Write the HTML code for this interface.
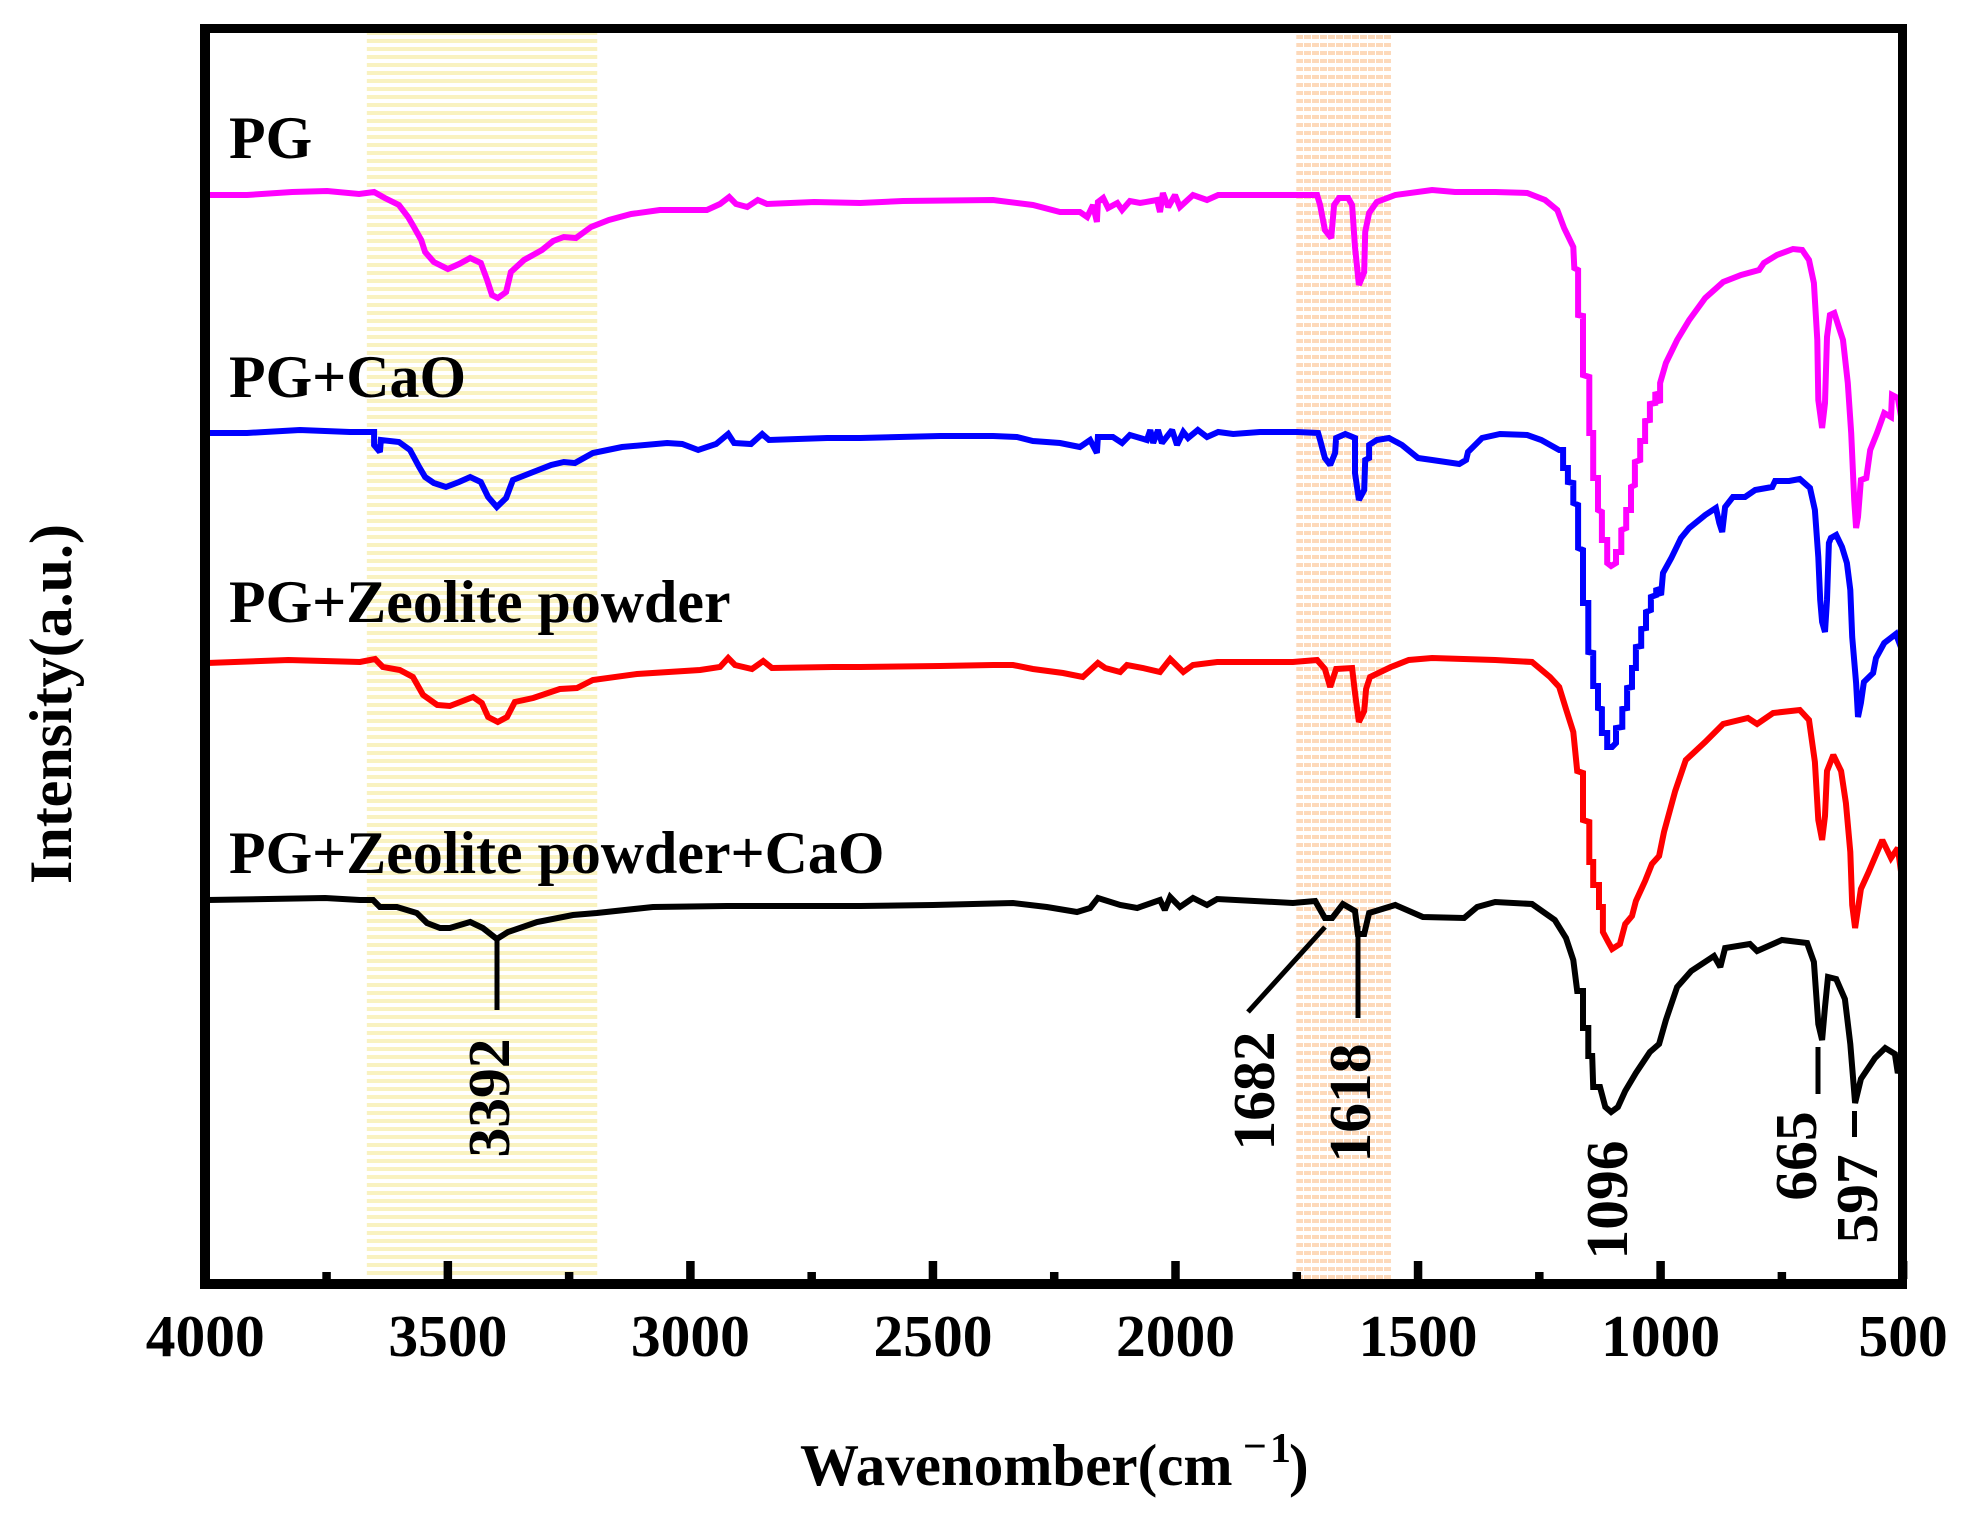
<!DOCTYPE html>
<html lang="en">
<head>
<meta charset="utf-8">
<title>FTIR spectra</title>
<style>
html,body{margin:0;padding:0;background:#fff;}
svg{display:block;}
text{font-family:"Liberation Serif",serif;font-weight:bold;fill:#000;}
</style>
</head>
<body>
<svg id="chart" xmlns="http://www.w3.org/2000/svg" width="1963" height="1519" viewBox="0 0 1963 1519">
  <defs>
    <pattern id="yellow-stripes" patternUnits="userSpaceOnUse" x="0" y="39" width="8" height="8">
      <rect x="0" y="0" width="8" height="4" fill="#F9F2C0" shape-rendering="crispEdges"/>
    </pattern>
    <pattern id="orange-stripes" patternUnits="userSpaceOnUse" x="1296" y="35" width="8" height="8">
      <rect x="0" y="0" width="7" height="4" fill="#FDD9BA" shape-rendering="crispEdges"/>
    </pattern>
  </defs>
  <g id="bands"></g>
  <g id="series"></g>
  <g stroke="#000" stroke-width="5" fill="none">
    <line x1="497" y1="940" x2="497" y2="1010"/>
    <line x1="1325" y1="927" x2="1248" y2="1012"/>
    <line x1="1358" y1="926" x2="1358" y2="1018"/>
    <line x1="1818" y1="1047" x2="1818" y2="1094"/>
    <line x1="1854.5" y1="1111" x2="1854.5" y2="1137"/>
  </g>
  <g font-size="59.9">
    <text x="229" y="158">PG</text>
    <text x="229" y="397">PG+CaO</text>
    <text x="229" y="622">PG+Zeolite powder</text>
    <text x="229" y="873">PG+Zeolite powder+CaO</text>
  </g>
  <g font-size="59.5" text-anchor="middle">
    <text transform="translate(509 1098) rotate(-90)">3392</text>
    <text transform="translate(1274 1091) rotate(-90)">1682</text>
    <text transform="translate(1370 1103) rotate(-90)">1618</text>
    <text transform="translate(1627 1200) rotate(-90)">1096</text>
    <text transform="translate(1816 1156) rotate(-90)">665</text>
    <text transform="translate(1877 1199) rotate(-90)">597</text>
  </g>
  <g id="frame" fill="#000" shape-rendering="crispEdges">
    <rect x="200" y="24" width="1707" height="9"/>
    <rect x="200" y="1279" width="1707" height="10"/>
    <rect x="200" y="24" width="10" height="1265"/>
    <rect x="1898" y="24" width="9" height="1265"/>
  </g>
  <g id="x-axis"></g>
  <text x="800" y="1485" font-size="59">Wavenomber(cm<tspan x="1243" y="1460" font-size="42">−</tspan><tspan x="1270" y="1462" font-size="42">1</tspan><tspan x="1289" y="1485" font-size="59">)</tspan></text>
  <text transform="translate(71 704) rotate(-90)" font-size="60" text-anchor="middle">Intensity(a.u.)</text>
</svg>
<script>
const majorTicks = [4000, 3500, 3000, 2500, 2000, 1500, 1000, 500];
const minorTicks = [3750, 3250, 2750, 2250, 1750, 1250, 750];
const yellowBand = [3667, 3192];
const orangeBand = [1751, 1555];

const pgWavenumber = [3996,3914,3821,3749,3683,3652,3630,3601,3582,3570,3555,3547,3529,3500,3477,3454,3432,3419,3409,3397,3380,3370,3343,3306,3283,3261,3236,3205,3168,3122,3063,3003,2966,2939,2920,2906,2883,2861,2842,2745,2650,2562,2376,2294,2238,2197,2182,2170,2162,2160,2149,2139,2120,2110,2094,2073,2038,2032,2026,2015,2001,1991,1964,1935,1912,1826,1749,1708,1702,1692,1679,1673,1663,1644,1636,1630,1622,1611,1609,1601,1585,1547,1471,1424,1341,1275,1238,1213,1199,1180,1178,1170,1170,1160,1160,1147,1147,1139,1139,1129,1129,1121,1121,1110,1110,1102,1092,1092,1081,1081,1071,1071,1061,1061,1053,1053,1042,1042,1032,1032,1022,1022,1011,1011,1001,1001,989,966,941,908,871,834,797,787,760,727,708,694,684,677,675,667,661,657,651,642,632,624,614,607,601,597,593,587,576,568,554,539,525,523,511,502];
const pgIntensity = [1105,1105,1108,1109,1106,1108,1102,1095,1083,1073,1060,1048,1038,1031,1036,1042,1037,1020,1005,1002,1008,1028,1040,1050,1059,1063,1062,1073,1080,1086,1090,1090,1090,1096,1103,1096,1093,1100,1096,1098,1097,1099,1100,1095,1088,1088,1083,1095,1078,1098,1102,1092,1097,1090,1099,1097,1100,1088,1107,1093,1105,1093,1105,1100,1105,1105,1105,1105,1095,1070,1062,1095,1102,1102,1095,1053,1015,1028,1068,1087,1098,1105,1110,1108,1108,1107,1100,1090,1072,1053,1032,1030,985,984,925,923,867,867,822,822,790,788,760,760,737,734,737,748,748,770,772,790,790,813,815,838,840,859,859,879,880,896,897,908,897,917,937,960,980,1002,1018,1025,1030,1037,1045,1051,1050,1040,1017,960,900,872,897,963,985,987,972,960,917,867,800,772,783,820,822,850,867,887,883,905,902,877];

const caoWavenumber = [3996,3914,3805,3702,3652,3652,3640,3638,3601,3578,3559,3547,3529,3504,3477,3454,3432,3417,3399,3380,3366,3324,3287,3261,3238,3201,3141,3048,3017,2984,2947,2922,2910,2875,2852,2838,2718,2650,2485,2376,2327,2294,2238,2197,2176,2162,2160,2129,2110,2094,2059,2052,2046,2036,2028,2007,1997,1984,1974,1954,1935,1912,1881,1826,1749,1706,1702,1692,1681,1671,1669,1650,1630,1630,1622,1611,1609,1601,1601,1585,1560,1533,1500,1471,1415,1401,1397,1368,1331,1275,1246,1209,1201,1201,1191,1191,1180,1180,1170,1170,1160,1160,1149,1149,1139,1139,1129,1129,1121,1121,1110,1110,1100,1092,1092,1079,1079,1069,1069,1059,1059,1051,1051,1040,1040,1030,1030,1020,1020,1009,1009,999,995,978,958,941,908,886,879,873,867,851,826,805,770,764,735,713,692,682,675,671,667,661,657,653,649,638,626,616,609,605,597,593,587,581,562,556,539,515,504,500];
const caoIntensity = [867,867,870,868,868,855,848,860,858,850,833,823,817,813,818,823,818,803,793,802,820,828,835,838,837,847,853,857,856,850,856,866,857,856,866,860,862,862,864,864,863,859,857,853,860,847,863,863,857,865,860,870,857,870,857,870,855,868,862,870,863,868,866,868,868,867,860,842,835,847,862,866,862,827,800,810,840,842,855,860,862,855,842,840,836,840,848,862,866,865,860,850,850,832,832,818,817,797,795,752,750,697,697,648,647,614,614,592,591,567,567,553,553,557,572,573,591,592,612,613,632,632,653,654,671,672,688,690,703,705,712,705,727,742,762,772,785,792,777,768,793,803,803,810,813,819,819,821,812,790,743,700,678,668,700,757,762,765,753,737,710,663,617,583,597,618,627,642,657,666,652,642];

const zeoliteWavenumber = [3996,3829,3681,3650,3634,3599,3572,3551,3522,3496,3448,3430,3417,3397,3378,3362,3324,3269,3234,3201,3110,2980,2939,2922,2908,2873,2850,2832,2706,2650,2485,2376,2335,2294,2232,2191,2160,2145,2114,2100,2067,2032,2011,1984,1964,1914,1758,1708,1692,1681,1669,1636,1630,1622,1611,1607,1599,1556,1519,1471,1341,1265,1228,1209,1195,1180,1172,1160,1160,1147,1147,1139,1139,1127,1127,1119,1119,1108,1100,1084,1073,1059,1051,1032,1018,1003,993,970,948,908,871,820,801,768,713,694,682,675,667,661,657,644,628,618,609,605,599,587,572,543,525,511,504];
const zeoliteIntensity = [637,640,638,641,633,630,623,605,595,594,603,597,583,578,583,598,602,611,612,620,626,630,633,642,635,631,639,632,633,633,634,635,635,631,627,623,637,632,628,635,632,628,641,628,635,638,638,640,631,613,631,632,607,578,589,611,623,633,640,642,640,638,623,613,591,568,529,527,480,478,438,438,415,415,393,393,368,358,351,356,376,384,399,419,436,444,468,509,540,558,576,582,576,587,590,580,538,480,460,484,529,545,529,497,448,395,372,411,427,460,442,452,427];

const comboWavenumber = [3996,3753,3681,3654,3640,3605,3564,3543,3516,3496,3454,3428,3399,3376,3316,3242,3193,3077,2925,2650,2500,2335,2265,2203,2176,2160,2114,2079,2032,2022,2011,1991,1964,1935,1914,1758,1712,1692,1677,1655,1630,1624,1611,1601,1547,1490,1405,1378,1341,1265,1218,1195,1180,1172,1160,1160,1149,1149,1141,1139,1125,1114,1102,1088,1073,1051,1022,1003,989,966,937,890,877,867,816,801,750,698,684,675,667,661,655,638,620,609,599,587,558,537,517,511,504];
const comboIntensity = [400,402,400,400,393,393,387,377,372,372,378,372,361,368,378,385,387,393,394,394,395,397,393,388,392,402,395,392,400,390,403,393,402,395,401,397,399,382,382,396,389,366,366,387,395,383,382,393,398,396,380,362,340,309,309,272,272,244,244,213,213,193,188,193,209,227,248,256,280,313,329,344,333,352,356,349,360,357,338,276,260,293,323,321,301,256,197,221,242,252,246,227,235];

const seriesNames = ['pg', 'pg-cao', 'pg-zeolite', 'pg-zeolite-cao'];
const seriesColors = ['#FF00FF', '#0000FF', '#FF0000', '#000000'];
const seriesWavenumbers = [pgWavenumber, caoWavenumber, zeoliteWavenumber, comboWavenumber];
const seriesIntensities = [pgIntensity, caoIntensity, zeoliteIntensity, comboIntensity];

const SVGNS = 'http://www.w3.org/2000/svg';
function xScale(w) { return 205.3 + (4000 - w) * 0.4851; }
function yScale(v) { return 1300 - v; }

function makeBand(range, fill, top, bottom, name) {
  const r = document.createElementNS(SVGNS, 'rect');
  r.setAttribute('x', xScale(range[0]));
  r.setAttribute('y', top);
  r.setAttribute('width', xScale(range[1]) - xScale(range[0]));
  r.setAttribute('height', bottom - top);
  r.setAttribute('fill', fill);
  
  
  document.getElementById('bands').appendChild(r);
}
makeBand(yellowBand, 'url(#yellow-stripes)', 31, 1275, 'yellow-band-3392');
makeBand(orangeBand, 'url(#orange-stripes)', 33, 1279, 'orange-band-1650');

seriesNames.forEach(function (name, i) {
  const ws = seriesWavenumbers[i];
  const vs = seriesIntensities[i];
  let d = '';
  for (let k = 0; k < ws.length; k++) {
    d += (k === 0 ? 'M' : 'L') + xScale(ws[k]).toFixed(1) + ' ' + yScale(vs[k]).toFixed(1);
  }
  const path = document.createElementNS(SVGNS, 'path');
  path.setAttribute('d', d);
  path.setAttribute('fill', 'none');
  path.setAttribute('stroke', seriesColors[i]);
  path.setAttribute('stroke-width', '6');
  path.setAttribute('stroke-linejoin', 'miter');
  path.setAttribute('stroke-miterlimit', '2');
  
  
  document.getElementById('series').appendChild(path);
});

const axisGroup = document.getElementById('x-axis');
function makeTick(w, top) {
  const t = document.createElementNS(SVGNS, 'rect');
  t.setAttribute('x', xScale(w) - 4.25);
  t.setAttribute('y', top);
  t.setAttribute('width', 8.5);
  t.setAttribute('height', 1279 - top);
  t.setAttribute('fill', '#000');
  
  
  axisGroup.appendChild(t);
}
majorTicks.forEach(function (w) {
  makeTick(w, 1261);
  const label = document.createElementNS(SVGNS, 'text');
  label.setAttribute('x', xScale(w));
  label.setAttribute('y', 1356);
  label.setAttribute('font-size', '59.5');
  label.setAttribute('text-anchor', 'middle');
  
  
  label.textContent = String(w);
  axisGroup.appendChild(label);
});
minorTicks.forEach(function (w) {
  makeTick(w, 1272);
});
</script>
</body>
</html>
